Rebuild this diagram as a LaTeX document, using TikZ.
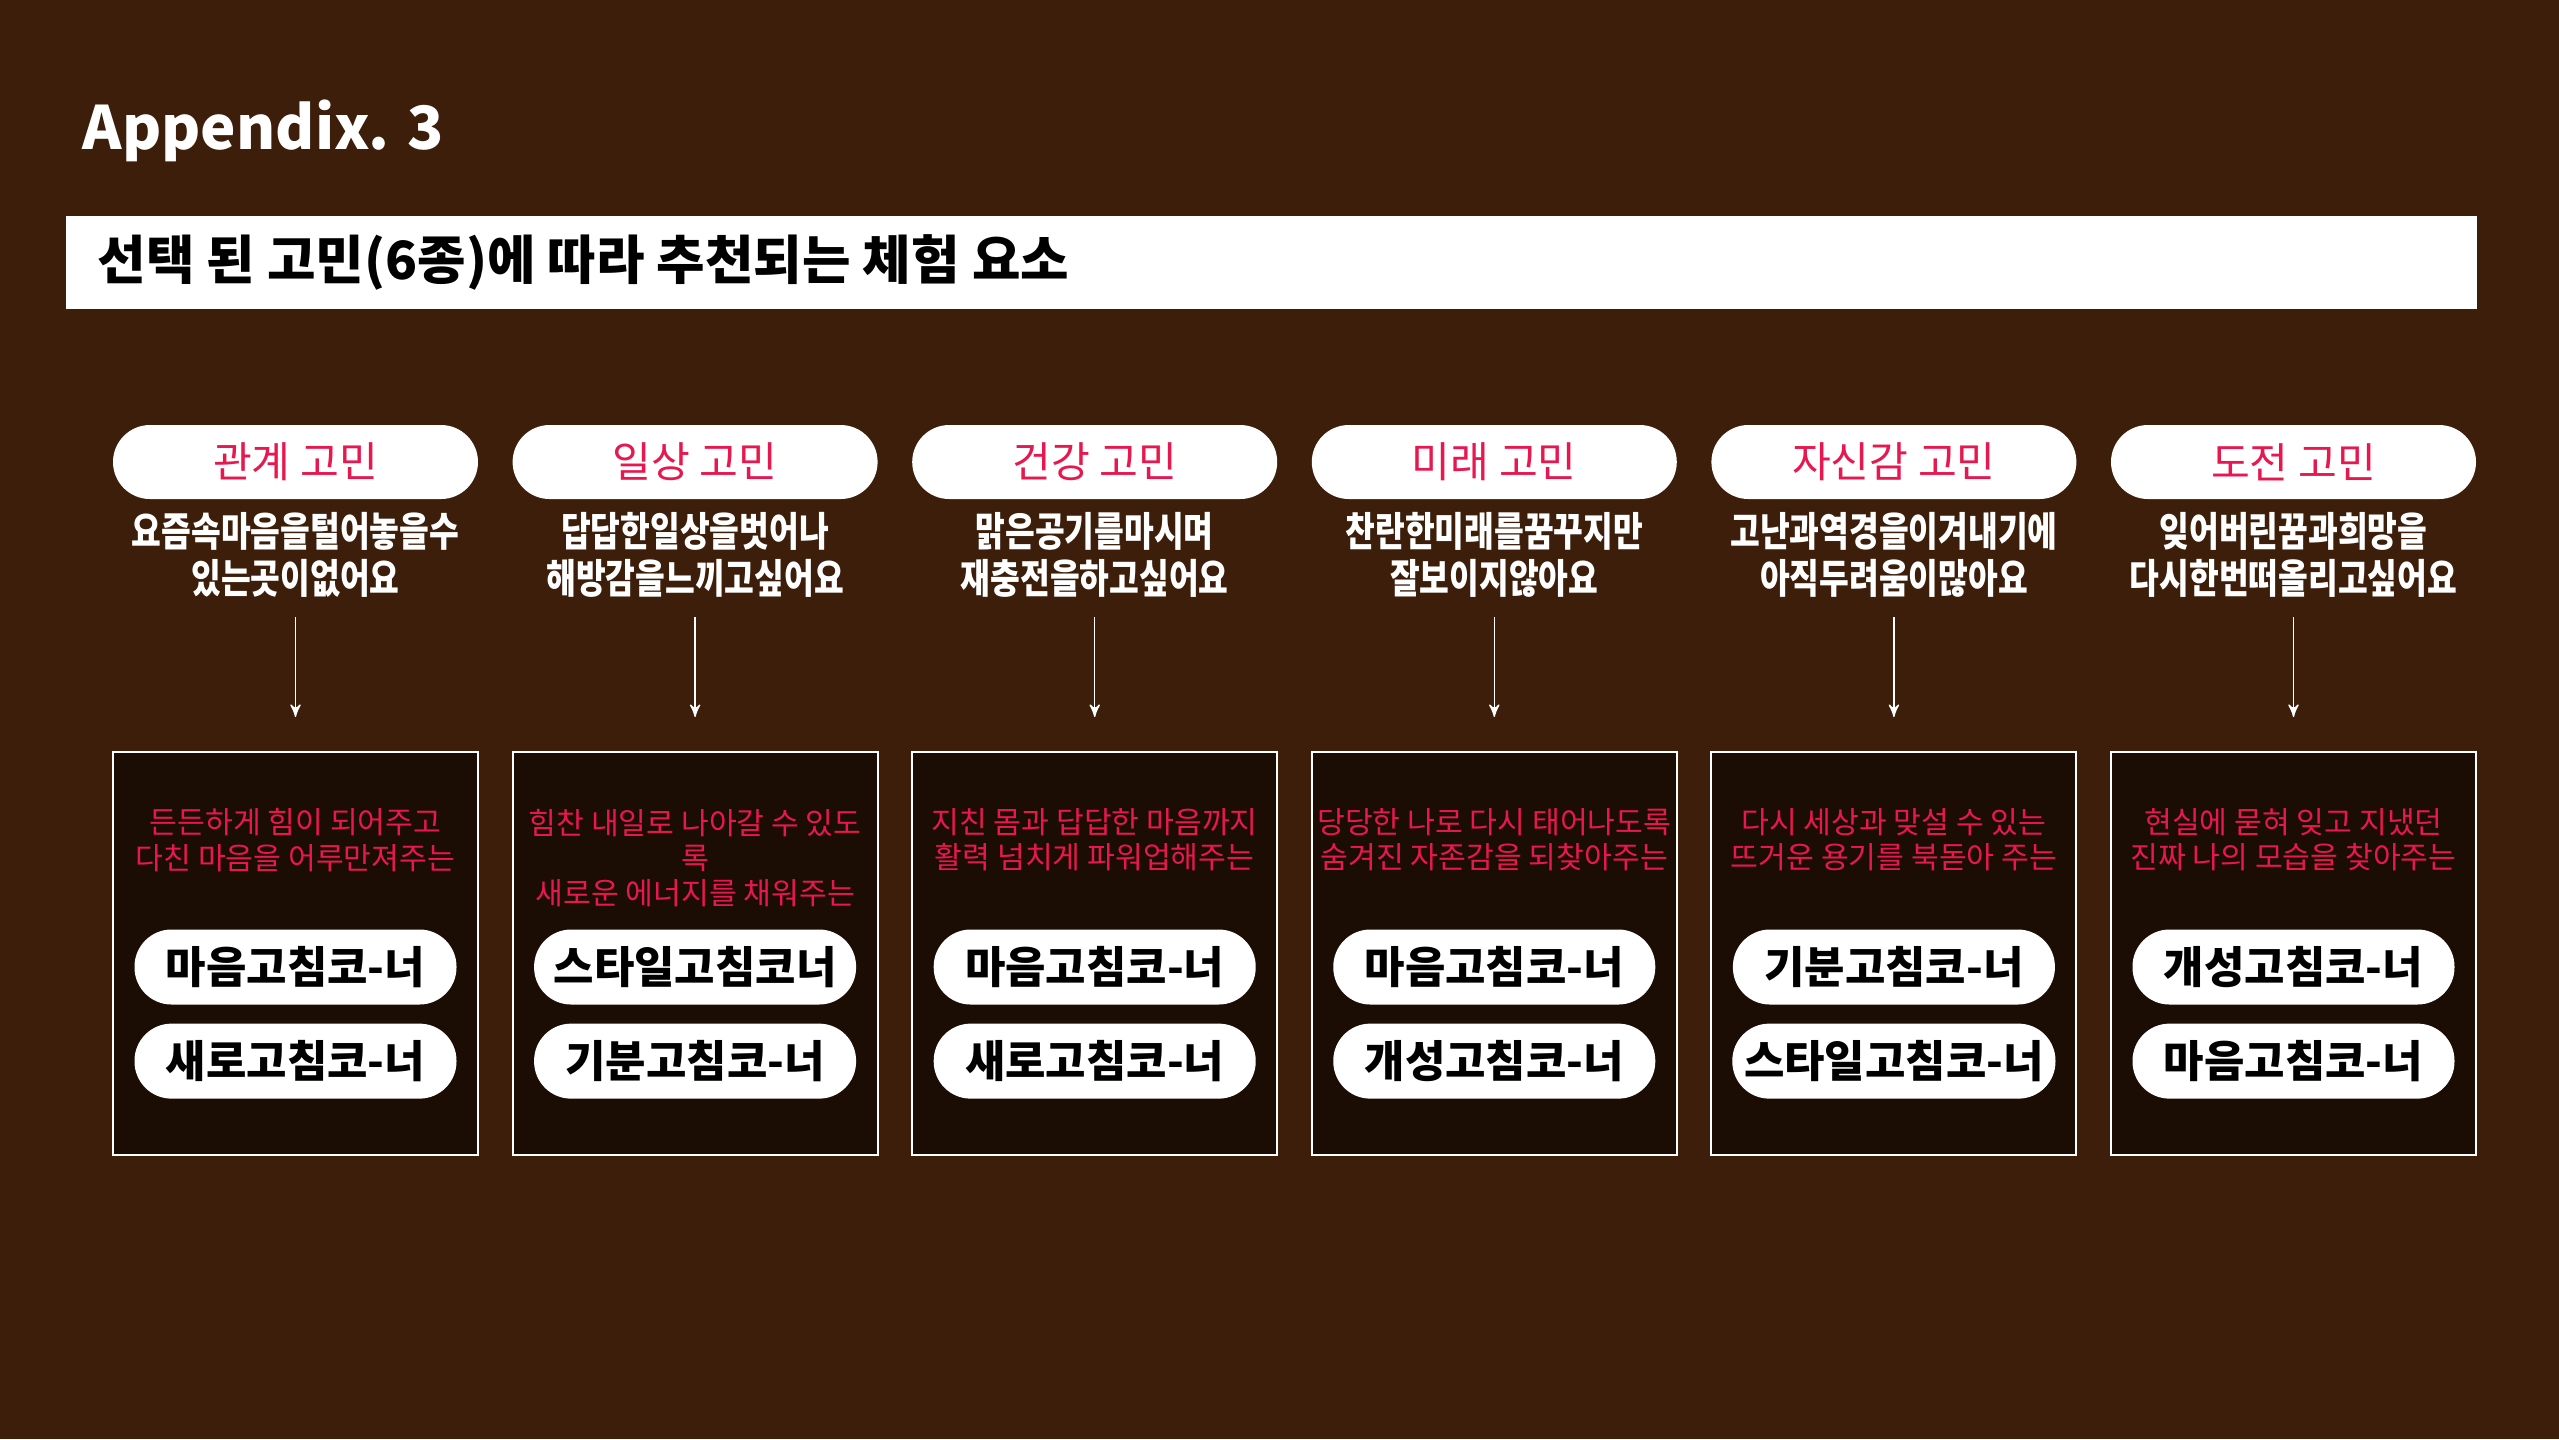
\documentclass[tikz,border=0pt]{standalone}
\usepackage{fontspec}
\setmainfont{Noto Sans CJK KR}
\newfontfamily\cjkq{Noto Sans CJK KR}[FakeStretch=0.8]
\usetikzlibrary{positioning, calc, shapes, arrows}
\definecolor{bgbrown}{HTML}{3C1E0A}
\definecolor{boxdark}{HTML}{1B0D03}
\definecolor{pink}{HTML}{E8174F}
\tikzset{
  pill/.style={draw=none, fill=white, rounded corners=0.37cm, minimum width=3.65cm, minimum height=0.74cm, text=pink, font=\fontsize{12}{14}\selectfont},
  worry/.style={text=white, align=center, font=\cjkq\bfseries\fontsize{11.5}{13.5}\selectfont},
  panel/.style={draw=white, fill=boxdark, line width=0.6pt, minimum width=3.65cm, minimum height=4.03cm},
  effect/.style={text=pink, align=center, font=\fontsize{8.6}{10}\selectfont},
  corner/.style={fill=white, rounded corners=0.37cm, minimum width=3.22cm, minimum height=0.75cm, font=\bfseries\fontsize{12.5}{14}\selectfont},
}
\begin{document}
\begin{tikzpicture}[>=stealth', semithick]
  \fill[bgbrown] (0,0) rectangle (25.59,-14.39);
  \useasboundingbox (0,0) rectangle (25.59,-14.39);
  \node[anchor=west, text=white, font=\bfseries\fontsize{17}{20}\selectfont] (title) at (0.7,-1.31) {Appendix. 3};
  \node[fill=white, minimum width=24.11cm, minimum height=0.93cm, anchor=north west] (banner) at (0.65,-2.15) {};
  \node[anchor=west, font=\bfseries\fontsize{15}{18}\selectfont] (head) at (0.85,-2.62) {선택 된 고민(6종)에 따라 추천되는 체험 요소};
  \foreach \i/\cat/\q/\e/\ca/\cb in {
    1/관계 고민/요즘속마음을털어놓을수\\있는곳이없어요/든든하게 힘이 되어주고\\다친 마음을 어루만져주는/마음고침코-너/새로고침코-너,
    2/일상 고민/답답한일상을벗어나\\해방감을느끼고싶어요/힘찬 내일로 나아갈 수 있도\\록\\새로운 에너지를 채워주는/스타일고침코너/기분고침코-너,
    3/건강 고민/맑은공기를마시며\\재충전을하고싶어요/지친 몸과 답답한 마음까지\\활력 넘치게 파워업해주는/마음고침코-너/새로고침코-너,
    4/미래 고민/찬란한미래를꿈꾸지만\\잘보이지않아요/당당한 나로 다시 태어나도록\\숨겨진 자존감을 되찾아주는/마음고침코-너/개성고침코-너,
    5/자신감 고민/고난과역경을이겨내기에\\아직두려움이많아요/다시 세상과 맞설 수 있는\\뜨거운 용기를 북돋아 주는/기분고침코-너/스타일고침코-너,
    6/도전 고민/잊어버린꿈과희망을\\다시한번떠올리고싶어요/현실에 묻혀 잊고 지냈던\\진짜 나의 모습을 찾아주는/개성고침코-너/마음고침코-너} {
    \pgfmathsetmacro{\cx}{2.955+(\i-1)*3.996}
    \node[pill] (cat\i) at (\cx,-4.62) {\cat};
    \node[worry] (q\i) at (\cx,-5.55) {\q};
    \coordinate (top\i) at (\cx,-6.17);
    \node[panel, anchor=north] (box\i) at (\cx,-7.51) {};
    \draw[->, white, thin] (top\i) -- ++(0,-1.0);
    \node[effect, anchor=north] (e\i) at ($(box\i.north)+(0,-0.45)$) {\e};
    \node[corner] (ca\i) at (\cx,-9.67) {\ca};
    \node[corner, below=0.17cm of ca\i] (cb\i) {\cb};
  }
\end{tikzpicture}
\end{document}
